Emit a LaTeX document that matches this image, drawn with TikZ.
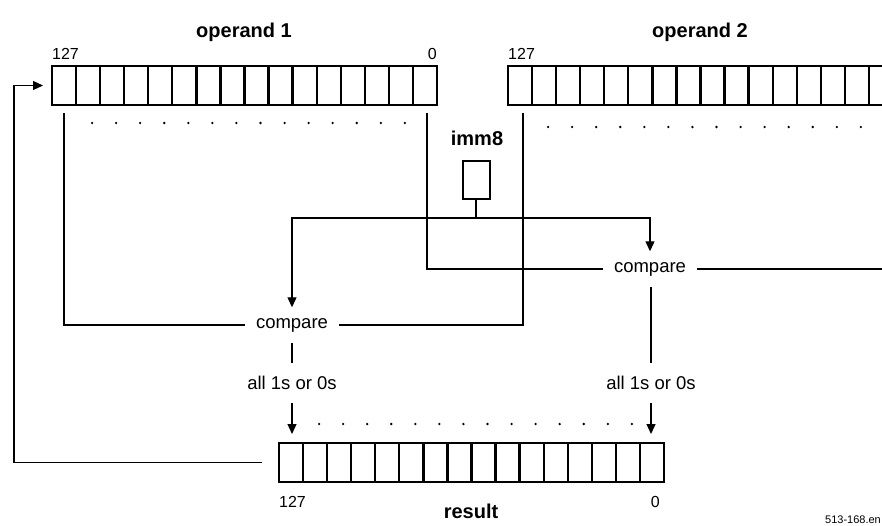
\documentclass[tikz,border=0pt]{standalone}
\usepackage{fontspec}
\setmainfont{Liberation Sans}
\usetikzlibrary{arrows.meta,calc}
\begin{document}
\begin{tikzpicture}[x=1pt,y=-1pt,
  reg/.style={draw,line width=2.3pt,minimum width=385pt,minimum height=39pt,inner sep=0pt,outer sep=0pt},
  cell/.style={line width=2.3pt},
  conn/.style={line width=1.2pt},
  arr/.style={conn,-{Triangle[length=10pt,width=9pt]}},
  title/.style={font=\fontsize{20}{24}\selectfont\bfseries,inner sep=0pt},
  bitnum/.style={font=\fontsize{16}{19}\selectfont,inner sep=0pt},
  lab/.style={font=\fontsize{18.5}{22}\selectfont,inner sep=0pt},
  cmp/.style={font=\fontsize{18.5}{22}\selectfont,inner xsep=11pt,inner ysep=0pt,minimum height=35pt},
  outl/.style={font=\fontsize{18.5}{22}\selectfont,inner sep=0pt,minimum height=40pt},
  dotmark/.style={fill=black}
]
\useasboundingbox (0,0) rectangle (882,525);
\clip (0,0) rectangle (882,525);

\def\cw{24.0625}

% registers
\node[reg] (op1) at (244.5,85.5) {};
\node[reg] (op2) at (700.5,85.5) {};
\node[reg] (res) at (471.5,462.5) {};
\foreach \r in {op1,op2,res}{
  \foreach \i in {1,...,15}{
    \draw[cell] ($(\r.north west)+(\i*\cw,0)$) -- ($(\r.south west)+(\i*\cw,0)$);
  }
}
% dots
\foreach \i in {1,...,14}{
  \fill[dotmark] ($(op1.south west)+(\i*\cw+16,18)$) circle (1.3pt);
  \fill[dotmark] ($(op2.south west)+(\i*\cw+16,22)$) circle (1.3pt);
  \fill[dotmark] ($(res.north west)+(\i*\cw+16,-19)$) circle (1.3pt);
}

% titles and bit numbers
\node[title,anchor=base] (t1) at (244,37) {operand 1};
\node[title,anchor=base] (t2) at (700,37) {operand 2};
\node[title,anchor=base] (tr) at (471,518) {result};
\node[bitnum,anchor=base west] (n1a) at ($(op1.north west)+(0,-7)$) {127};
\node[bitnum,anchor=base east] (n1b) at ($(op1.north east)+(0,-7)$) {0};
\node[bitnum,anchor=base west] (n2a) at ($(op2.north west)+(0,-7)$) {127};
\node[bitnum,anchor=base east] (n2b) at ($(op2.north east)+(0,-7)$) {0};
\node[bitnum,anchor=base west] (nra) at ($(res.south west)+(0,25)$) {127};
\node[bitnum,anchor=base east] (nrb) at ($(res.south east)+(-4,25)$) {0};

% imm8
\node[title,anchor=base] (immlab) at (477,145) {imm8};
\node[draw,line width=2pt,minimum width=27pt,minimum height=38pt,inner sep=0pt] (imm) at (476,180) {};

% compare nodes
\node[cmp] (c1) at (292,325) {compare};
\node[cmp] (c2) at (650,269) {compare};
\node[outl] (o1) at (292,383) {all 1s or 0s};
\node[outl] (o2) at (651,383) {all 1s or 0s};

% coordinates
\coordinate (a1) at ($(op1.south west)+(12,8)$);
\coordinate (a2) at ($(op1.south east)+(-10,8)$);
\coordinate (b2) at ($(op2.south west)+(15,8)$);
\coordinate (redge) at (882,269);
\coordinate (j) at (476,218);
\coordinate (r1) at ($(res.north west)+(13,-9)$);
\coordinate (r2) at ($(res.north east)+(-13,-9)$);
\coordinate (fb1) at ($(res.west)+(-17,0)$);
\coordinate (fb2) at ($(op1.west)+(-9,0)$);
\coordinate (fbc) at (14,462.5);

% connectors
\draw[conn] (a1) |- (c1.west);
\draw[conn] (b2) |- (c1.east);
\draw[conn] (a2) |- (c2.west);
\draw[conn] (c2.east) -- (redge);
\draw[conn] (imm.south) -- (j);
\draw[arr] (j) -| (c1.north);
\draw[arr] (j) -| (c2.north);
\draw[conn] (c1.south) -- (o1.north);
\draw[conn] (c2.south -| o2.north) -- (o2.north);
\draw[arr] (o1.south) -- (r1);
\draw[arr] (o2.south) -- (r2);
\draw[arr] (fb1) -- (fbc) |- (fb2);

% footer
\node[font=\fontsize{11}{13}\selectfont,anchor=base west,inner sep=0pt] (foot) at (825,523) {513-168.en};
\end{tikzpicture}
\end{document}
